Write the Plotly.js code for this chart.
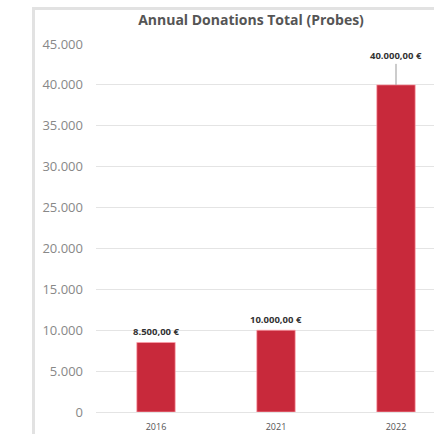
<!DOCTYPE html>
<html>
<head>
<meta charset="utf-8">
<script src="https://cdn.plot.ly/plotly-3.0.1.min.js"></script>
<style>
  html, body { margin: 0; padding: 0; width: 434px; height: 434px; overflow: hidden; background: #fff; }
  #frame { position: absolute; left: 32px; top: 7px; width: 440px; height: 440px;
           border-left: 3px solid #e2e2e2; border-top: 3px solid #e2e2e2; background: #fff; }
  #chart { position: absolute; left: 0; top: 0; width: 432px; height: 440px; }
</style>
</head>
<body>
<div id="frame"><div id="chart"></div></div>
<script>
const years = ['2016', '2021', '2022'];
const totals = [8500, 10000, 40000];
const titleText = 'Annual Donations Total (Probes)';

function euro(v) {
  const s = v.toFixed(2).split('.');
  const intPart = s[0].replace(/\B(?=(\d{3})+(?!\d))/g, '.');
  return intPart + ',' + s[1] + '\u00a0€';
}

const maxVal = Math.max(...totals);
const annotations = years.map((y, i) => {
  const big = totals[i] === maxVal;
  return big ? {
    x: i, y: totals[i], xref: 'x', yref: 'y', text: '<b>' + euro(totals[i]) + '</b>',
    showarrow: true, arrowhead: 0, arrowwidth: 1, arrowcolor: '#999', ax: 0, ay: -29, standoff: 0,
    font: { family: 'Open Sans, sans-serif', size: 9.5, color: '#333' }
  } : {
    x: i, y: totals[i], xref: 'x', yref: 'y', text: '<b>' + euro(totals[i]) + '</b>',
    showarrow: false, yanchor: 'bottom', yshift: 2,
    font: { family: 'Open Sans, sans-serif', size: 9.5, color: '#333' }
  };
});

const trace = {
  type: 'bar', x: years, y: totals,
  marker: { color: '#c8293b', line: { color: 'rgba(255,160,170,0.7)', width: 1 } },
  hoverinfo: 'none'
};

const layout = {
  width: 432, height: 440,
  margin: { l: 61, r: 11, t: 34, b: 38 },
  paper_bgcolor: '#fff', plot_bgcolor: '#fff',
  separators: ',.',
  showlegend: false,
  bargap: 0.68,
  title: { text: '<b>' + titleText + '</b>', x: 0.5, xref: 'container', xanchor: 'center',
           y: 1 - 10/440, yref: 'container', yanchor: 'middle',
           font: { family: 'Open Sans, sans-serif', size: 14, color: '#555' } },
  xaxis: { type: 'category', range: [-0.5, years.length - 0.5], autorange: false,
           showgrid: false, showline: false, zeroline: false, ticks: '',
           ticklabelstandoff: 8,
           tickfont: { family: 'Open Sans, sans-serif', size: 9, color: '#555' } },
  yaxis: { range: [0, 45000], autorange: false, dtick: 5000, tickformat: ',d', showgrid: true, gridcolor: '#e4e4e4', gridwidth: 1,
           zeroline: true, zerolinecolor: '#e4e4e4', zerolinewidth: 1, showline: false, ticks: '',
           ticklabelstandoff: 12,
           tickfont: { family: 'Open Sans, sans-serif', size: 13, color: '#888' } },
  annotations: annotations
};

Plotly.newPlot('chart', [trace], layout, { displayModeBar: false, staticPlot: true });
</script>
</body>
</html>
